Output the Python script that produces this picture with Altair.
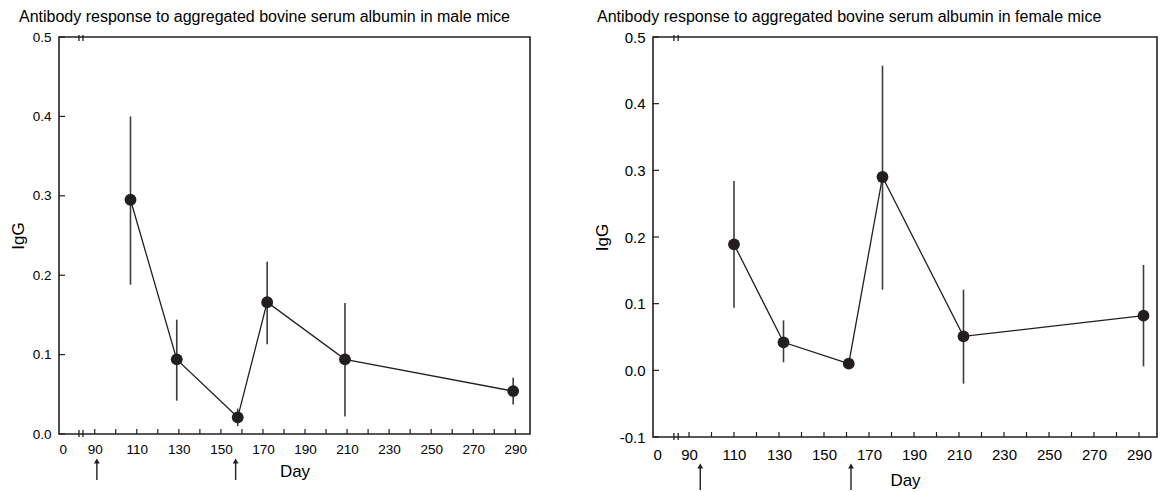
import altair as alt
import pandas as pd

# ---- data ----
male_day = [107, 129, 158, 172, 209, 289]
male_igg = [0.295, 0.094, 0.021, 0.166, 0.094, 0.054]
male_lo = [0.188, 0.042, 0.010, 0.113, 0.022, 0.037]
male_hi = [0.400, 0.144, 0.032, 0.217, 0.165, 0.071]

female_day = [110, 132, 161, 176, 212, 292]
female_igg = [0.189, 0.042, 0.010, 0.290, 0.051, 0.082]
female_lo = [0.094, 0.012, 0.004, 0.121, -0.020, 0.006]
female_hi = [0.284, 0.075, 0.016, 0.457, 0.121, 0.158]

male_arrows = [91, 157]
female_arrows = [95, 162]

male_breaks = [82.5, 84.4]
female_breaks = [83.3, 85.2]

x_minor_ticks = [90, 100, 110, 120, 130, 140, 150, 160, 170, 180, 190, 200,
                 210, 220, 230, 240, 250, 260, 270, 280, 290]
x_label_values = [90, 110, 130, 150, 170, 190, 210, 230, 250, 270, 290]

male_y_ticks = [0.0, 0.1, 0.2, 0.3, 0.4, 0.5]
female_y_ticks = [-0.1, 0.0, 0.1, 0.2, 0.3, 0.4, 0.5]

male_title = "Antibody response to aggregated bovine serum albumin in male mice"
female_title = "Antibody response to aggregated bovine serum albumin in female mice"

FONT = "Liberation Sans"
INK = "#231f20"


def panel(title, days, igg, lo, hi, arrows, breaks, y_ticks,
          x_dom, y_dom, w, h, title_dx, title_off, arrow_top, arrow_bot,
          label_pad, title_pad_y, title_pad_x, lab_size, ttl_size):
    pts = pd.DataFrame({"day": days, "igg": igg, "lo": lo, "hi": hi})
    xt = pd.DataFrame({"day": x_minor_ticks})
    yt = pd.DataFrame({"igg": y_ticks})
    ar = pd.DataFrame({"day": arrows})
    br = pd.DataFrame({"day": breaks})

    xaxis = alt.Axis(values=[x_dom[0]] + x_label_values,
                     labelExpr="datum.value < 80 ? '0' : datum.label",
                     format="d", labelOverlap=False, labelFontSize=lab_size,
                     labelPadding=label_pad, titlePadding=title_pad_x,
                     titleFontSize=ttl_size, grid=False, ticks=False,
                     domain=False)
    yaxis = alt.Axis(values=y_ticks,
                     labelExpr="datum.value < 0 ? '-' + format(-datum.value, '.1f') : format(datum.value, '.1f')",
                     labelFontSize=lab_size,
                     labelPadding=8, titlePadding=title_pad_y,
                     titleFontSize=ttl_size, grid=False, ticks=False,
                     domain=False)
    xs = alt.Scale(domain=x_dom, nice=False, zero=False)
    ys = alt.Scale(domain=y_dom, nice=False, zero=False)

    def X():
        return alt.X("day:Q", scale=xs, axis=xaxis, title="Day")

    def Y(f="igg"):
        return alt.Y(f + ":Q", scale=ys, axis=yaxis, title="IgG")

    err = alt.Chart(pts).mark_rule(color="#3c3c3c", strokeWidth=1.6).encode(
        x=X(), y=Y("lo"), y2="hi:Q")
    line = alt.Chart(pts).mark_line(color=INK, strokeWidth=1.3).encode(
        x=X(), y=Y())
    dots = alt.Chart(pts).mark_point(filled=True, color=INK, opacity=1,
                                     size=140, shape="circle").encode(
        x=X(), y=Y())
    xtk = alt.Chart(xt).mark_rule(color=INK, strokeWidth=1.2).encode(
        x=X(), y=alt.value(h), y2=alt.value(h - 5))
    ytk = alt.Chart(yt).mark_rule(color=INK, strokeWidth=1.2).encode(
        y=Y(), x=alt.value(0), x2=alt.value(6))
    brk_b = alt.Chart(br).mark_rule(color=INK, strokeWidth=1.3).encode(
        x=X(), y=alt.value(h - 4), y2=alt.value(h + 3))
    brk_t = alt.Chart(br).mark_rule(color=INK, strokeWidth=1.3).encode(
        x=X(), y=alt.value(-2), y2=alt.value(4))
    ar_shaft = alt.Chart(ar).mark_rule(color=INK, strokeWidth=1.4).encode(
        x=X(), y=alt.value(h + arrow_top + 4), y2=alt.value(h + arrow_bot))
    ar_head = alt.Chart(ar).mark_point(shape="triangle-up", filled=True,
                                       color=INK, opacity=1, size=34).encode(
        x=X(), y=alt.value(h + arrow_top + 4))

    return alt.layer(err, line, dots, xtk, ytk, brk_b, brk_t,
                     ar_shaft, ar_head).properties(
        width=w, height=h,
        title=alt.TitleParams(title, anchor="start", frame="group",
                              dx=title_dx, offset=title_off,
                              fontSize=16, fontWeight="normal",
                              font=FONT, color="#000"))


left = panel(male_title, male_day, male_igg, male_lo, male_hi, male_arrows,
             male_breaks, male_y_ticks, [73, 297], [0.0, 0.5], 471, 397,
             -40, 5, 23, 46, 8, 5, 8, 13.5, 17)
right = panel(female_title, female_day, female_igg, female_lo, female_hi,
              female_arrows, female_breaks, female_y_ticks, [74, 298],
              [-0.1, 0.5], 504, 400, -56, 5, 25, 53, 10, 8, 10, 15, 17)

chart = alt.hconcat(left, right, spacing=61).configure(
    padding=0,
    view=alt.ViewConfig(stroke=INK, strokeWidth=1.6),
    axis=alt.AxisConfig(domain=False, ticks=False, grid=False,
                        labelFont=FONT, titleFont=FONT, labelColor="#000",
                        titleColor="#000", titleFontWeight="normal"),
)

chart.save("out.html", embed_options={"renderer": "svg", "actions": False})
